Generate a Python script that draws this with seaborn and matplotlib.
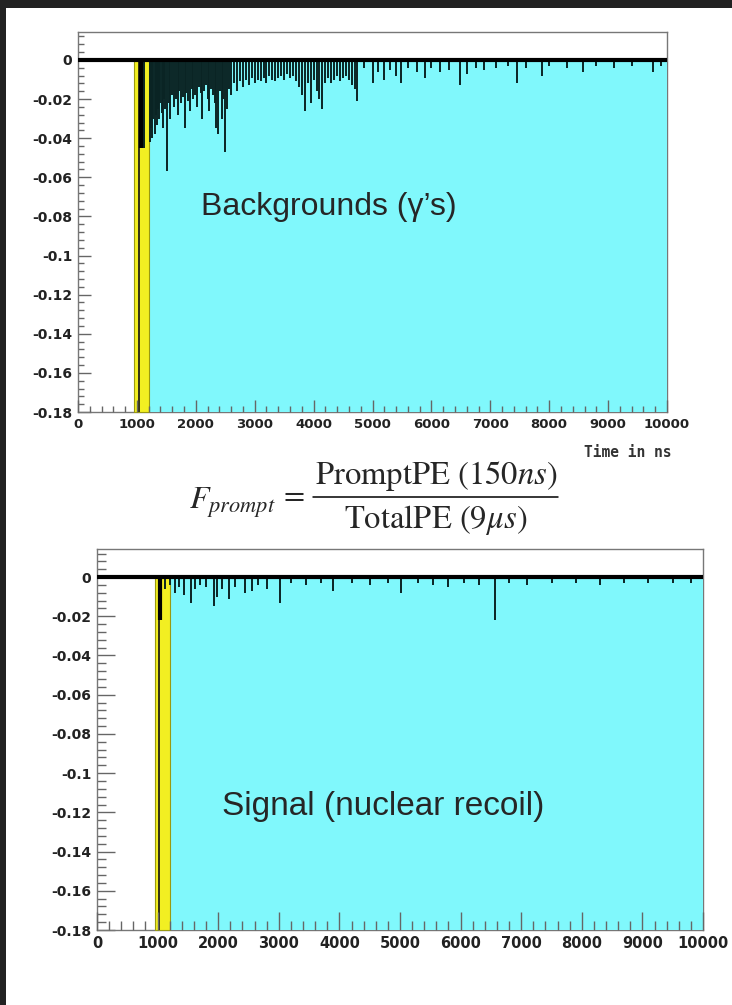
# PMT waveforms: background (gamma) vs signal (nuclear recoil) with F_prompt definition

import matplotlib
matplotlib.use("Agg")
import matplotlib.pyplot as plt
import seaborn as sns
from matplotlib.lines import Line2D
from matplotlib.patches import Rectangle
from matplotlib.ticker import MultipleLocator

# integration windows (ns)
prompt_window = [950, 1200]
late_window = [1200, 10000]
y_floor = -0.18

# waveform baseline
base_t = [0, 10000]
base_v = [0.0, 0.0]

# background event: prompt peak (deep + wide part) and late spikes
bg_peak_t = [1040, 1070]
bg_peak_v = [-0.20, -0.045]
bg_spike_t = [
    1120, 1220, 1240, 1260, 1280, 1300, 1320, 1340, 1360, 1380,
    1400, 1420, 1440, 1460, 1480, 1510, 1540, 1570, 1600, 1630,
    1660, 1690, 1720, 1750, 1780, 1810, 1840, 1870, 1900, 1930,
    1960, 1990, 2020, 2050, 2080, 2110, 2140, 2170, 2200, 2230,
    2260, 2290, 2320, 2350, 2380, 2410, 2440, 2470, 2500, 2530,
    2560, 2600, 2650, 2700, 2750, 2800, 2850, 2900, 2950, 3000,
    3050, 3100, 3150, 3200, 3250, 3300, 3350, 3400, 3450, 3500,
    3550, 3600, 3650, 3700, 3750, 3800, 3850, 3900, 3950, 4000,
    4050, 4100, 4150, 4200, 4250, 4300, 4350, 4400, 4450, 4500,
    4550, 4600, 4650, 4700, 4740, 4850, 5000, 5100, 5200, 5300,
    5400, 5490, 5600, 5750, 5890, 6000, 6150, 6300, 6480, 6600,
    6750, 6900, 7100, 7300, 7450, 7600, 7870, 8000, 8300, 8580,
    8800, 9100, 9400, 9770, 9900]
bg_spike_v = [
    -0.045, -0.042, -0.035, -0.040, -0.030, -0.038, -0.028, -0.033, -0.025, -0.030,
    -0.022, -0.027, -0.035, -0.020, -0.025, -0.057, -0.022, -0.030, -0.018, -0.024,
    -0.020, -0.028, -0.016, -0.022, -0.019, -0.035, -0.017, -0.021, -0.026, -0.015,
    -0.020, -0.018, -0.024, -0.014, -0.017, -0.030, -0.016, -0.013, -0.020, -0.026,
    -0.015, -0.018, -0.022, -0.035, -0.038, -0.016, -0.030, -0.020, -0.047, -0.025,
    -0.015, -0.018, -0.012, -0.016, -0.011, -0.014, -0.010, -0.013, -0.009, -0.012,
    -0.010, -0.011, -0.009, -0.012, -0.008, -0.010, -0.011, -0.009, -0.008, -0.010,
    -0.007, -0.009, -0.008, -0.011, -0.014, -0.018, -0.026, -0.012, -0.022, -0.010,
    -0.016, -0.020, -0.025, -0.012, -0.009, -0.012, -0.010, -0.008, -0.011, -0.009,
    -0.008, -0.010, -0.013, -0.015, -0.021, -0.004, -0.012, -0.006, -0.010, -0.005,
    -0.008, -0.012, -0.004, -0.006, -0.009, -0.004, -0.006, -0.005, -0.013, -0.007,
    -0.004, -0.005, -0.004, -0.003, -0.012, -0.004, -0.008, -0.003, -0.004, -0.006,
    -0.003, -0.004, -0.003, -0.006, -0.003]

# signal event
sig_peak_t = [1030, 1045]
sig_peak_v = [-0.20, -0.022]
sig_spike_t = [
    1120, 1200, 1290, 1360, 1430, 1550, 1620, 1700, 1800, 1930,
    1980, 2060, 2170, 2280, 2450, 2550, 2650, 2800, 3020, 3200,
    3450, 3700, 3900, 4200, 4500, 4800, 5020, 5300, 5550, 5800,
    6050, 6300, 6570, 6800, 7100, 7500, 7900, 8300, 8700, 9100,
    9500, 9800]
sig_spike_v = [
    -0.006, -0.004, -0.008, -0.005, -0.009, -0.013, -0.006, -0.004, -0.005, -0.015,
    -0.010, -0.006, -0.011, -0.005, -0.008, -0.007, -0.004, -0.006, -0.013, -0.003,
    -0.004, -0.003, -0.007, -0.003, -0.004, -0.003, -0.008, -0.003, -0.004, -0.005,
    -0.003, -0.004, -0.022, -0.003, -0.004, -0.003, -0.003, -0.004, -0.003, -0.003,
    -0.003, -0.003]

x_ticks = [0, 1000, 2000, 3000, 4000, 5000, 6000, 7000, 8000, 9000, 10000]
y_ticks = [0, -0.02, -0.04, -0.06, -0.08, -0.1, -0.12, -0.14, -0.16, -0.18]
y_labels = ["0", "-0.02", "-0.04", "-0.06", "-0.08", "-0.1", "-0.12", "-0.14", "-0.16", "-0.18"]

CYAN = "#80f8fc"
YELLOW = "#f2ef22"
W, H = 732, 1005

sns.set_style("white")
plt.rcParams["font.family"] = ["DejaVu Sans"]
plt.rcParams["mathtext.fontset"] = "stix"

fig = plt.figure(figsize=(W / 100, H / 100), dpi=100)
fig.patch.set_facecolor("#222222")
fig.patches.append(Rectangle((6 / W, 0), 1, 1 - 8 / H, transform=fig.transFigure,
                             fc="white", ec="none", zorder=-5))


def draw_panel(ax, peak_t, peak_v, spike_t, spike_v, xsize, ysize, major, minor):
    ax.fill_between(late_window, y_floor, 0, color=CYAN, lw=0, zorder=2.6)
    ax.fill_between(prompt_window, y_floor, 0, color=YELLOW, ec="#9a9a10", lw=0.8, zorder=2.6)
    ax.vlines(spike_t, spike_v, 0, color="#0a2424", lw=1.4, zorder=3)
    ax.vlines(peak_t[0], peak_v[0], 0, color="#111111", lw=1.2, zorder=3)
    ax.vlines(peak_t[1], peak_v[1], 0, color="black", lw=3, zorder=3)
    sns.lineplot(x=base_t, y=base_v, ax=ax, color="black", lw=3, zorder=3.5)

    ax.set_xlim(0, 10000)
    ax.set_ylim(y_floor, 0.0143)
    ax.set_xticks(x_ticks)
    ax.set_xticklabels([str(t) for t in x_ticks])
    ax.set_yticks(y_ticks)
    ax.set_yticklabels(y_labels)
    ax.xaxis.set_minor_locator(MultipleLocator(200))
    ax.yaxis.set_minor_locator(MultipleLocator(0.004))
    ax.xaxis.set_zorder(3)
    ax.tick_params(which="both", direction="in", color="#666666", width=1.0,
                   bottom=True, left=True, top=False, right=False)
    ax.tick_params(which="major", length=major, pad=4)
    ax.tick_params(which="minor", length=minor)
    for lab in ax.get_xticklabels():
        lab.set_fontweight("bold")
        lab.set_fontsize(xsize)
        lab.set_color("#222222")
    for lab in ax.get_yticklabels():
        lab.set_fontweight("bold")
        lab.set_fontsize(ysize)
        lab.set_color("#222222")
    for s in ax.spines.values():
        s.set_color("#777777")
        s.set_linewidth(1.0)
        s.set_visible(True)
    ax.set_xlabel("")
    ax.set_ylabel("")


# top panel: backgrounds
ax1 = fig.add_axes([78 / W, 1 - 412 / H, (667 - 78) / W, (412 - 32) / H])
draw_panel(ax1, bg_peak_t, bg_peak_v, bg_spike_t, bg_spike_v, 9.5, 10, 9, 4.5)
ax1.text(4260, -0.075, "Backgrounds (\u03b3\u2019s)", ha="center", va="center",
         fontsize=23, family="Liberation Sans", zorder=5)

# bottom panel: signal
ax2 = fig.add_axes([97 / W, 1 - 930 / H, (703 - 97) / W, (930 - 549) / H])
draw_panel(ax2, sig_peak_t, sig_peak_v, sig_spike_t, sig_spike_v, 10.5, 10, 13, 6.5)
ax2.text(4720, -0.117, "Signal (nuclear recoil)", ha="center", va="center",
         fontsize=24, family="Liberation Sans", zorder=5)

fig.text(628 / W, 1 - 452 / H, "Time in ns", ha="center", va="center",
         fontsize=10.5, family="DejaVu Sans Mono", fontweight="bold", color="#333333")

# F_prompt formula
fig.text(276 / W, 1 - 503 / H, r"$F_{prompt}$", ha="right", va="center",
         fontsize=23, family="STIXGeneral")
fig.text(294 / W, 1 - 498 / H, "=", ha="center", va="center",
         fontsize=22, family="STIXGeneral")
fig.text(436 / W, 1 - 476 / H, r"PromptPE (150$ns$)", ha="center", va="center",
         fontsize=23.5, family="STIXGeneral")
fig.text(436 / W, 1 - 520 / H, r"TotalPE (9$\mu s$)", ha="center", va="center",
         fontsize=23.5, family="STIXGeneral")
fig.lines.append(Line2D([313 / W, 558 / W], [1 - 497 / H, 1 - 497 / H],
                        transform=fig.transFigure, color="black", lw=1.1))

plt.savefig("out.png", dpi=100, facecolor=fig.get_facecolor())
